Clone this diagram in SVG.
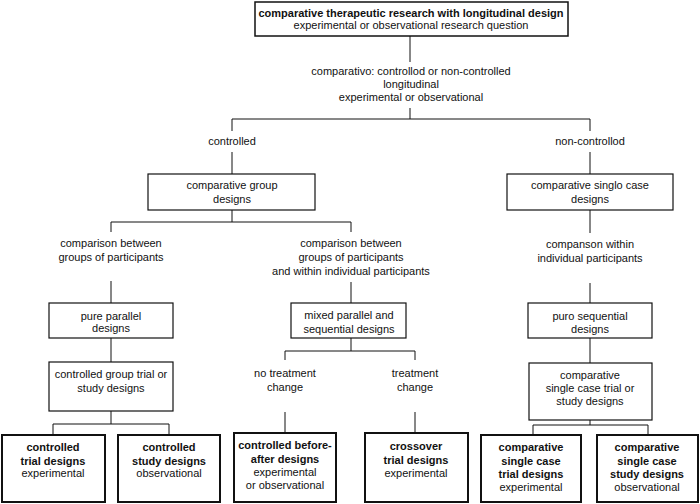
<svg xmlns="http://www.w3.org/2000/svg" width="700" height="504" viewBox="0 0 700 504">
<style>
text{font-family:"Liberation Sans",Arial,sans-serif;font-size:11px;fill:#111;text-anchor:middle}
.b{font-weight:bold;font-size:11px}
.tb{font-weight:bold;font-size:11px}
.box{fill:#fff;stroke:#111;stroke-width:1.2}
.bx2{fill:#fff;stroke:#111;stroke-width:2}
.c{stroke:#111;stroke-width:1;fill:none}
</style>
<rect width="700" height="504" fill="#fff"/>
<g id="connectors">
<path class="c" d="M410 36V62M410 108V119M232 119H590M232 119V131M590 119V131M232 152V174M590 152V174"/>
<path class="c" d="M232 210V222M111 222H351M111 222V232M351 222V232M590 210V233"/>
<path class="c" d="M111 281V303M351 282V303M590 283V304"/>
<path class="c" d="M111 338V362M111 411V424M53 424H169M53 424V435M169 424V435"/>
<path class="c" d="M351 338V351M285 351H415M285 351V360M415 351V360M285 412V433M415 412V433"/>
<path class="c" d="M590 338V363M590 420V425M533 425H648M533 425V435M648 425V435"/>
</g>
<g id="n-top"><rect class="box" x="255" y="2" width="313" height="34" style="stroke-width:1.5"/>
<text class="tb" x="411" y="17">comparative therapeutic research with longitudinal design</text>
<text x="411" y="29">experimental or observational research question</text></g>
<g id="l-comp"><text x="411" y="75">comparativo: controllod or non-controlled</text>
<text x="411" y="88">longitudinal</text>
<text x="411" y="101">experimental or observational</text></g>
<g id="l-ctrl"><text x="232" y="145">controlled</text></g>
<g id="l-nonctrl"><text x="590" y="145">non-controllod</text></g>
<g id="n-group"><rect class="box" x="148" y="174" width="167" height="36"/>
<text x="232" y="189">comparative group</text><text x="232" y="203">designs</text></g>
<g id="n-single"><rect class="box" x="507" y="174" width="166" height="36"/>
<text x="590" y="189">comparative singlo case</text><text x="590" y="203">designs</text></g>
<g id="l-between"><text x="111" y="247">comparison between</text><text x="111" y="261">groups of participants</text></g>
<g id="l-mixed"><text x="351" y="247">comparison between</text><text x="351" y="261">groups of participants</text><text x="351" y="275">and within individual participants</text></g>
<g id="l-within"><text x="590" y="248">companson within</text><text x="590" y="262">individual participants</text></g>
<g id="n-pureparallel"><rect class="box" x="49" y="303" width="124" height="35"/>
<text x="111" y="320">pure parallel</text><text x="111" y="332">designs</text></g>
<g id="n-mixed"><rect class="box" x="291" y="303" width="115" height="35"/>
<text x="349" y="319">mixed parallel and</text><text x="349" y="333">sequential designs</text></g>
<g id="n-puresequential"><rect class="box" x="528" y="303" width="124" height="35"/>
<text x="590" y="320">puro sequential</text><text x="590" y="333">designs</text></g>
<g id="n-cgtrial"><rect class="box" x="49" y="362" width="124" height="49"/>
<text x="111" y="378">controlled group trial or</text><text x="111" y="392">study designs</text></g>
<g id="l-notreat"><text x="285" y="377">no treatment</text><text x="285" y="391">change</text></g>
<g id="l-treat"><text x="415" y="377">treatment</text><text x="415" y="391">change</text></g>
<g id="n-cstrial"><rect class="box" x="529" y="363" width="123" height="57"/>
<text x="590" y="379">comparative</text><text x="590" y="392">single case trial or</text><text x="590" y="405">study designs</text></g>
<g id="n-ctrial"><rect class="bx2" x="2" y="435" width="103" height="67"/>
<text class="b" x="53" y="451">controlled</text><text class="b" x="53" y="465">trial designs</text><text x="53" y="477">experimental</text></g>
<g id="n-cstudy"><rect class="bx2" x="118" y="435" width="102" height="67"/>
<text class="b" x="169" y="451">controlled</text><text class="b" x="169" y="465">study designs</text><text x="169" y="477">observational</text></g>
<g id="n-beforeafter"><rect class="bx2" x="234" y="433" width="102" height="69"/>
<text class="b" x="285" y="449">controlled before-</text><text class="b" x="285" y="463">after designs</text><text x="285" y="476">experimental</text><text x="285" y="489">or observational</text></g>
<g id="n-crossover"><rect class="bx2" x="365" y="433" width="103" height="69"/>
<text class="b" x="416" y="450">crossover</text><text class="b" x="416" y="464">trial designs</text><text x="416" y="477">experimental</text></g>
<g id="n-sctrial"><rect class="bx2" x="481" y="435" width="100" height="67"/>
<text class="b" x="531" y="451">comparative</text><text class="b" x="531" y="465">single case</text><text class="b" x="531" y="478">trial designs</text><text x="531" y="491">experimental</text></g>
<g id="n-scstudy"><rect class="bx2" x="597" y="435" width="101" height="67"/>
<text class="b" x="647" y="451">comparative</text><text class="b" x="647" y="465">single case</text><text class="b" x="647" y="478">study designs</text><text x="647" y="491">observational</text></g>
</svg>
